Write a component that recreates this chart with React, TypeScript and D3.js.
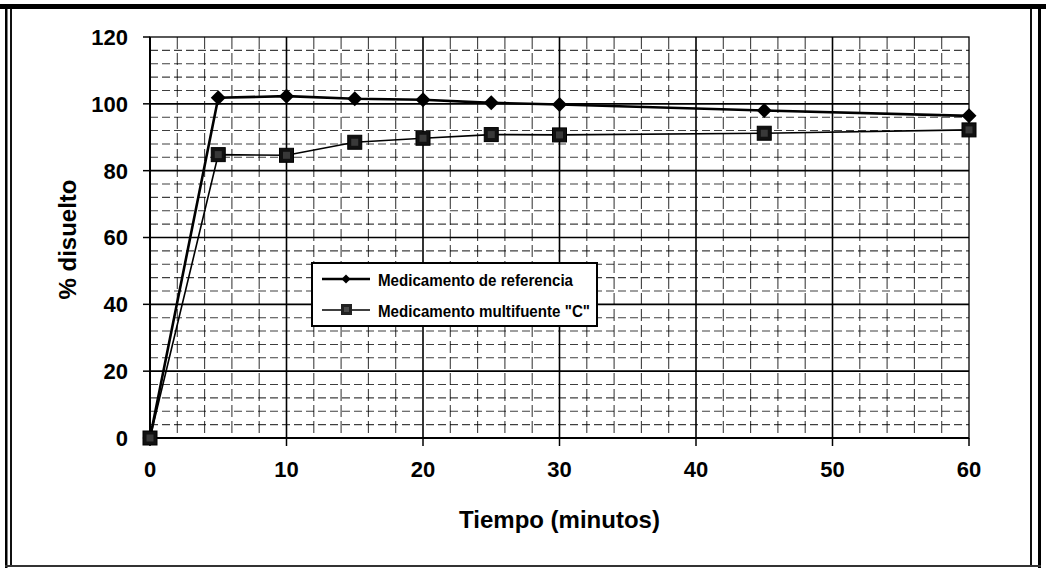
import React from "react";
import * as d3 from "d3";

// Dissolution profile: time (min) vs % dissolved
const tiempo = [0, 5, 10, 15, 20, 25, 30, 45, 60];
const referencia = [0, 101.8, 102.3, 101.5, 101.2, 100.3, 99.8, 98.0, 96.4];
const multifuente = [0, 84.8, 84.6, 88.5, 89.7, 90.8, 90.7, 91.2, 92.2];

const xTicks = [0, 10, 20, 30, 40, 50, 60];
const yTicks = [0, 20, 40, 60, 80, 100, 120];
const seriesNames = ["Medicamento de referencia", 'Medicamento multifuente "C"'];

const W = 1046;
const H = 573;
const plot = { left: 150, right: 969, top: 37, bottom: 438 };
const FONT = "'Liberation Sans', Arial, Helvetica, sans-serif";

export default function App() {
  const x = d3.scaleLinear().domain([0, 60]).range([plot.left, plot.right]);
  const y = d3.scaleLinear().domain([0, 120]).range([plot.bottom, plot.top]);

  const line = d3
    .line<[number, number]>()
    .x((d) => x(d[0]))
    .y((d) => y(d[1]));

  const refPts = tiempo.map((t, i) => [t, referencia[i]] as [number, number]);
  const multPts = tiempo.map((t, i) => [t, multifuente[i]] as [number, number]);

  const vGrid = d3.range(2, 60, 2);
  const hGrid = d3.range(4, 120, 4);

  const diamond = (cx: number, cy: number, r: number) =>
    `M${cx},${cy - r}L${cx + r},${cy}L${cx},${cy + r}L${cx - r},${cy}Z`;

  const lg = { x: 312, y: 263, w: 285, h: 63 };

  return (
    <div style={{ position: "absolute", left: 0, top: 0, width: W, height: H, background: "#fff" }}>
      <svg width={W} height={H} viewBox={`0 0 ${W} ${H}`} style={{ display: "block" }}>
        <rect x={0} y={0} width={W} height={H} fill="#fff" />

        {/* outer frame */}
        <rect x={0} y={4} width={W} height={5} fill="#000" />
        <rect x={5} y={6} width={2.5} height={562} fill="#000" />
        <rect x={10} y={9} width={2} height={557} fill="#111" />
        <rect x={1030} y={9} width={2} height={557} fill="#111" />
        <rect x={1038} y={6} width={3} height={562} fill="#000" />
        <rect x={5} y={565} width={1036} height={2} fill="#333" />

        {/* gridlines: solid at major units, dashed at minor units */}
        {hGrid.map((v) => (
          <line
            key={"h" + v}
            x1={plot.left}
            x2={plot.right}
            y1={y(v)}
            y2={y(v)}
            stroke="#000"
            strokeWidth={v % 20 === 0 ? 1.6 : 1.1}
            strokeDasharray={v % 20 === 0 ? undefined : "8,4"}
            opacity={v % 20 === 0 ? 1 : 0.75}
          />
        ))}
        {vGrid.map((v) => (
          <line
            key={"v" + v}
            x1={x(v)}
            x2={x(v)}
            y1={plot.top}
            y2={plot.bottom}
            stroke="#000"
            strokeWidth={v % 10 === 0 ? 1.6 : 1.1}
            strokeDasharray={v % 10 === 0 ? undefined : "12,4"}
            opacity={v % 10 === 0 ? 1 : 0.75}
          />
        ))}

        {/* plot border */}
        <rect
          x={plot.left}
          y={plot.top}
          width={plot.right - plot.left}
          height={plot.bottom - plot.top}
          fill="none"
          stroke="#000"
          strokeWidth={1.3}
        />

        {/* axes */}
        <line x1={plot.left} x2={plot.left} y1={plot.top} y2={plot.bottom} stroke="#000" strokeWidth={2} />
        <line x1={plot.left} x2={plot.right} y1={plot.bottom} y2={plot.bottom} stroke="#000" strokeWidth={2} />
        {yTicks.map((v) => (
          <g key={"yt" + v}>
            <line x1={plot.left - 7} x2={plot.left} y1={y(v)} y2={y(v)} stroke="#000" strokeWidth={1.5} />
            <text
              x={128}
              y={y(v)}
              dy="0.36em"
              textAnchor="end"
              fontFamily={FONT}
              fontWeight="bold"
              fontSize={22}
              fill="#000"
            >
              {v}
            </text>
          </g>
        ))}
        {xTicks.map((v) => (
          <g key={"xt" + v}>
            <line x1={x(v)} x2={x(v)} y1={plot.bottom} y2={plot.bottom + 8} stroke="#000" strokeWidth={1.5} />
            <text
              x={x(v)}
              y={477}
              textAnchor="middle"
              fontFamily={FONT}
              fontWeight="bold"
              fontSize={22}
              fill="#000"
            >
              {v}
            </text>
          </g>
        ))}

        {/* axis titles */}
        <text
          x={(plot.left + plot.right) / 2}
          y={528}
          textAnchor="middle"
          fontFamily={FONT}
          fontWeight="bold"
          fontSize={24}
          fill="#000"
        >
          Tiempo (minutos)
        </text>
        <text
          transform={`translate(76,${(plot.top + plot.bottom) / 2 + 2}) rotate(-90)`}
          textAnchor="middle"
          fontFamily={FONT}
          fontWeight="bold"
          fontSize={24}
          fill="#000"
        >
          % disuelto
        </text>

        {/* series lines */}
        <path d={line(refPts) ?? ""} fill="none" stroke="#000" strokeWidth={2.6} />
        <path d={line(multPts) ?? ""} fill="none" stroke="#000" strokeWidth={1.6} />

        {/* markers */}
        {refPts.map(([t, v]) => (
          <path key={"d" + t} d={diamond(x(t), y(v), 7.5)} fill="#000" />
        ))}
        {multPts.map(([t, v]) => (
          <g key={"s" + t}>
            <rect x={x(t) - 7} y={y(v) - 7} width={14} height={14} fill="#111" stroke="#000" strokeWidth={1} />
            <rect x={x(t) - 3.5} y={y(v) - 3.5} width={7} height={7} fill="#555" opacity={0.6} />
          </g>
        ))}

        {/* legend */}
        <rect x={lg.x} y={lg.y} width={lg.w} height={lg.h} fill="#fff" stroke="#000" strokeWidth={2} />
        <line x1={322} x2={370} y1={279} y2={279} stroke="#000" strokeWidth={2.4} />
        <path d={diamond(346, 279, 4.5)} fill="#000" />
        <text x={378} y={285.5} fontFamily={FONT} fontWeight="bold" fontSize={16.5} fill="#000" textLength={195} lengthAdjust="spacingAndGlyphs">
          {seriesNames[0]}
        </text>
        <line x1={322} x2={370} y1={310} y2={310} stroke="#000" strokeWidth={1.5} />
        <rect x={341} y={304} width={11} height={11} fill="#222" />
        <rect x={344} y={307} width={5} height={5} fill="#666" opacity={0.6} />
        <text x={378} y={316.5} fontFamily={FONT} fontWeight="bold" fontSize={16.5} fill="#000" textLength={212} lengthAdjust="spacingAndGlyphs">
          {seriesNames[1]}
        </text>
      </svg>
    </div>
  );
}
